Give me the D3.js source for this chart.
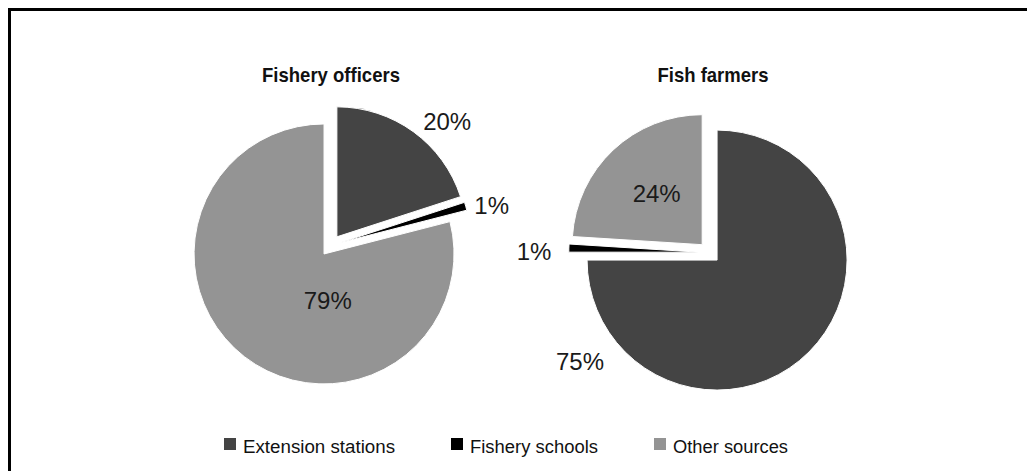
<!DOCTYPE html>
<html>
<head>
<meta charset="utf-8">
<script src="https://cdn.jsdelivr.net/npm/d3@7"></script>
<style>
  html, body { margin: 0; padding: 0; background: #fff; }
  svg { display: block; }
</style>
</head>
<body>
<svg id="chart" width="1027" height="471"></svg>
<script>
// Information sources reported by each group (percent shares)
const groups = ["Fishery officers", "Fish farmers"];
const sources = ["Extension stations", "Fishery schools", "Other sources"];
const officerShares = [20, 1, 79];
const farmerShares = [75, 1, 24];
const sourceColors = ["#444444", "#000000", "#949494"];

// Layout of the two pies and their value labels (label angle in degrees from 12 o'clock, distance from pie centre)
const pieLayout = [
  { cx: 330.6, cy: 245.5, titleX: 331, titleWidth: 138, labels: [[43.3, 170], [76, 166], [183, 55]] },
  { cx: 709.5, cy: 252.5, titleX: 713, titleWidth: 111, labels: [[230, 169], [270.5, 175.5], [318, 79]] }
];
const radius = 130;
const explode = 10.7;
// condensed typeface widths for the legend entries
const legendWidths = [152, 128, 115];

const condensed = "'Liberation Sans', Arial, sans-serif";

const svg = d3.select("#chart");

// frame around the figure (runs past the right and bottom edges)
svg.append("rect")
  .attr("x", 9.5).attr("y", 9.5)
  .attr("width", 1200).attr("height", 700)
  .attr("fill", "none").attr("stroke", "#000").attr("stroke-width", 3);

const color = d3.scaleOrdinal().domain(sources).range(sourceColors);
const pie = d3.pie().sort(null).value(d => d.value);
const arc = d3.arc().innerRadius(0).outerRadius(radius);

[officerShares, farmerShares].forEach((shares, gi) => {
  const lay = pieLayout[gi];
  const data = shares.map((v, i) => ({ source: sources[i], value: v }));
  const arcs = pie(data);
  const g = svg.append("g").attr("transform", `translate(${lay.cx},${lay.cy})`);

  g.selectAll("path.slice")
    .data(arcs)
    .join("path")
    .attr("class", "slice")
    .attr("transform", d => {
      const a = (d.startAngle + d.endAngle) / 2;
      return `translate(${explode * Math.sin(a)},${-explode * Math.cos(a)})`;
    })
    .attr("d", arc)
    .attr("fill", d => color(d.data.source))
    .attr("stroke", "#fff")
    .attr("stroke-width", 1);

  g.selectAll("text.value")
    .data(arcs)
    .join("text")
    .attr("class", "value")
    .attr("x", (d, i) => lay.labels[i][1] * Math.sin(lay.labels[i][0] * Math.PI / 180))
    .attr("y", (d, i) => -lay.labels[i][1] * Math.cos(lay.labels[i][0] * Math.PI / 180))
    .attr("dy", "0.36em")
    .attr("text-anchor", "middle")
    .attr("font-family", "'Liberation Sans', Arial, sans-serif")
    .attr("font-size", 24)
    .attr("fill", "#1a1a1a")
    .text(d => d.data.value + "%");

  svg.append("text")
    .attr("x", lay.titleX)
    .attr("y", 82)
    .attr("text-anchor", "middle")
    .attr("font-family", condensed)
    .attr("font-weight", "bold")
    .attr("font-size", 21)
    .attr("textLength", lay.titleWidth)
    .attr("lengthAdjust", "spacingAndGlyphs")
    .attr("fill", "#111")
    .text(groups[gi]);
});

// legend
const legend = svg.append("g").attr("transform", "translate(224,444)");
let lx = 0;
sources.forEach((s, i) => {
  const item = legend.append("g").attr("transform", `translate(${lx},0)`);
  item.append("rect")
    .attr("x", 0).attr("y", -6)
    .attr("width", 12).attr("height", 12)
    .attr("fill", color(s));
  item.append("text")
    .attr("x", 19).attr("y", 9)
    .attr("font-family", condensed)
    .attr("font-size", 17.5)
    .attr("textLength", legendWidths[i])
    .attr("lengthAdjust", "spacingAndGlyphs")
    .attr("fill", "#111")
    .text(s);
  lx += 19 + legendWidths[i] + 56;
});
</script>
</body>
</html>
